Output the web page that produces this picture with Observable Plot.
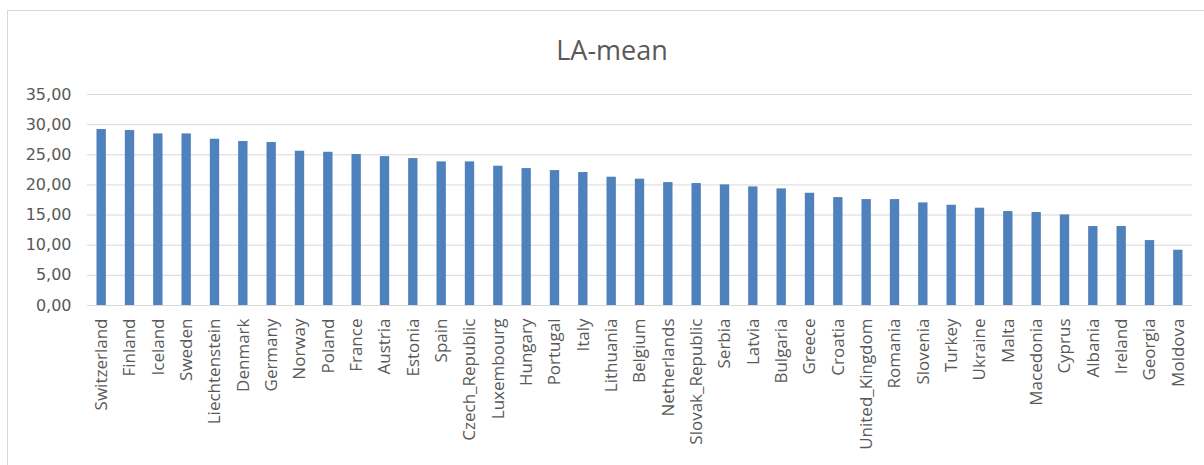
<!DOCTYPE html>
<html>
<head>
<meta charset="utf-8">
<script src="https://cdn.jsdelivr.net/npm/d3@7"></script>
<script src="https://cdn.jsdelivr.net/npm/@observablehq/plot@0.6"></script>
<style>
  html, body { margin: 0; padding: 0; background: #fff; overflow: hidden; }
  #wrap { position: relative; width: 1204px; height: 465px; }
  #border { position: absolute; left: 7px; top: 10px; width: 1210px; height: 470px; border: 1px solid #d9d9d9; box-sizing: border-box; }
  #chart { position: absolute; left: 0; top: 0; }
</style>
</head>
<body>
<div id="wrap"><div id="border"></div><div id="chart"></div></div>
<script>
const title = "LA-mean";
const countries = ["Switzerland","Finland","Iceland","Sweden","Liechtenstein","Denmark","Germany","Norway","Poland","France","Austria","Estonia","Spain","Czech_Republic","Luxembourg","Hungary","Portugal","Italy","Lithuania","Belgium","Netherlands","Slovak_Republic","Serbia","Latvia","Bulgaria","Greece","Croatia","United_Kingdom","Romania","Slovenia","Turkey","Ukraine","Malta","Macedonia","Cyprus","Albania","Ireland","Georgia","Moldova"];
const values = [29.19,29.02,28.46,28.46,27.58,27.20,27.03,25.59,25.42,25.04,24.70,24.37,23.82,23.82,23.10,22.71,22.38,22.05,21.28,20.95,20.39,20.23,20.01,19.67,19.34,18.62,17.90,17.57,17.57,17.02,16.63,16.14,15.58,15.42,15.03,13.10,13.10,10.77,9.17];
const yTicks = [0,5,10,15,20,25,30,35];

const data = countries.map((c, i) => ({country: c, value: values[i]}));

const chart = Plot.plot({
  width: 1204,
  height: 465,
  marginTop: 94,
  marginBottom: 160,
  marginLeft: 87,
  marginRight: 12,
  style: {fontFamily: "'Open Sans', sans-serif", color: "#595959", background: "transparent", overflow: "visible"},
  x: {domain: countries, paddingInner: 0.67, paddingOuter: 0.335, round: false, label: null, tickSize: 0, tickRotate: -90, tickPadding: 13},
  y: {domain: [0, 35], label: null},
  marks: [
    Plot.gridY(yTicks, {stroke: "#d9d9d9", strokeOpacity: 1, strokeWidth: 1}),
    Plot.barY(data, {x: "country", y: "value", fill: "#4f81bd"}),
    Plot.axisY(yTicks, {tickSize: 0, tickPadding: 16, fontSize: 16, fontFamily: "'DejaVu Sans', sans-serif", tickFormat: d => d.toFixed(2).replace(".", ","), label: null}),
    Plot.axisX({tickSize: 0, tickRotate: -90, tickPadding: 13, fontSize: 17, label: null}),
    Plot.text([title], {frameAnchor: "top", dx: -28, dy: -35, lineAnchor: "bottom", fontSize: 27, fill: "#595959"})
  ]
});
document.getElementById("chart").appendChild(chart);
</script>
</body>
</html>
